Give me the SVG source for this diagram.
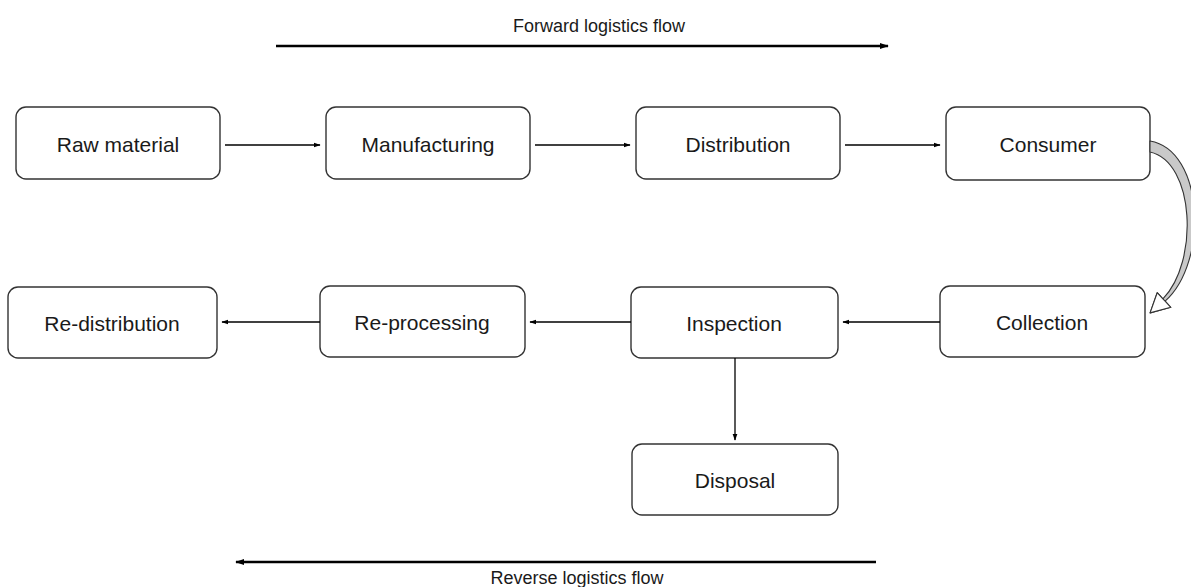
<svg xmlns="http://www.w3.org/2000/svg" width="1191" height="587" viewBox="0 0 1191 587">
  <defs>
    <marker id="tip" viewBox="0 0 10 10" refX="9" refY="5" markerWidth="7" markerHeight="7" markerUnits="userSpaceOnUse" orient="auto">
      <path d="M0,1.5 L10,5 L0,8.5 Z" fill="#000"/>
    </marker>
    <marker id="tipBig" viewBox="0 0 10 10" refX="9" refY="5" markerWidth="9" markerHeight="9" markerUnits="userSpaceOnUse" orient="auto">
      <path d="M0,1.5 L10,5 L0,8.5 Z" fill="#000"/>
    </marker>
    <style>
      .box { fill: #fff; stroke: #333; stroke-width: 1.4; }
      .lbl { font-family: "Liberation Sans", Arial, sans-serif; font-size: 21px; fill: #1a1a1a; text-anchor: middle; dominant-baseline: central; }
      .flow { font-family: "Liberation Sans", Arial, sans-serif; font-size: 18px; fill: #1a1a1a; text-anchor: middle; dominant-baseline: central; }
      .conn { stroke: #000; stroke-width: 1.3; fill: none; marker-end: url(#tip); }
      .main { stroke: #000; stroke-width: 2.4; fill: none; marker-end: url(#tipBig); }
    </style>
  </defs>
  <rect width="1191" height="587" fill="#fff"/>

  <!-- direction banners -->
  <g id="forward-flow">
    <text class="flow" x="599" y="26">Forward logistics flow</text>
    <line class="main" x1="276" y1="46" x2="888" y2="46"/>
  </g>
  <g id="reverse-flow">
    <line class="main" x1="876" y1="562" x2="236" y2="562"/>
    <text class="flow" x="577" y="578">Reverse logistics flow</text>
  </g>

  <!-- forward chain -->
  <g id="raw-material"><rect class="box" x="16" y="107" width="204" height="72" rx="10"/><text class="lbl" x="118" y="144">Raw material</text></g>
  <g id="manufacturing"><rect class="box" x="326" y="107" width="204" height="72" rx="10"/><text class="lbl" x="428" y="144">Manufacturing</text></g>
  <g id="distribution"><rect class="box" x="636" y="107" width="204" height="72" rx="10"/><text class="lbl" x="738" y="144">Distribution</text></g>
  <g id="consumer"><rect class="box" x="946" y="107" width="204" height="73" rx="10"/><text class="lbl" x="1048" y="144">Consumer</text></g>

  <!-- reverse chain -->
  <g id="re-distribution"><rect class="box" x="8" y="287" width="209" height="71" rx="10"/><text class="lbl" x="112" y="323">Re-distribution</text></g>
  <g id="re-processing"><rect class="box" x="320" y="286" width="205" height="71" rx="10"/><text class="lbl" x="422" y="322">Re-processing</text></g>
  <g id="inspection"><rect class="box" x="631" y="287" width="207" height="71" rx="10"/><text class="lbl" x="734" y="323">Inspection</text></g>
  <g id="collection"><rect class="box" x="940" y="286" width="205" height="71" rx="10"/><text class="lbl" x="1042" y="322">Collection</text></g>
  <g id="disposal"><rect class="box" x="632" y="444" width="206" height="71" rx="10"/><text class="lbl" x="735" y="480">Disposal</text></g>

  <g id="connectors">
    <line class="conn" x1="225" y1="145" x2="320" y2="145"/>
    <line class="conn" x1="535" y1="145" x2="630" y2="145"/>
    <line class="conn" x1="845" y1="145" x2="940" y2="145"/>
    <line class="conn" x1="940" y1="322" x2="843" y2="322"/>
    <line class="conn" x1="631" y1="322" x2="530" y2="322"/>
    <line class="conn" x1="320" y1="322" x2="222" y2="322"/>
    <line class="conn" x1="735" y1="358" x2="735" y2="440"/>
    <!-- curved return arrow from Consumer to Collection -->
    <path d="M1150,141 C1204,150 1209,262 1165.1,301.2 L1170.8,307.3 L1150.1,312.9 L1157.2,292.7 L1162.9,298.8 C1199,262 1195,162 1150,152 Z" fill="#c9c9c9" stroke="#333" stroke-width="1.1" stroke-linejoin="round"/>
    <path d="M1165.1,301.2 L1170.8,307.3 L1150.1,312.9 L1157.2,292.7 L1162.9,298.8 Z" fill="#fff" stroke="#333" stroke-width="1.1" stroke-linejoin="round"/>
  </g>
</svg>
